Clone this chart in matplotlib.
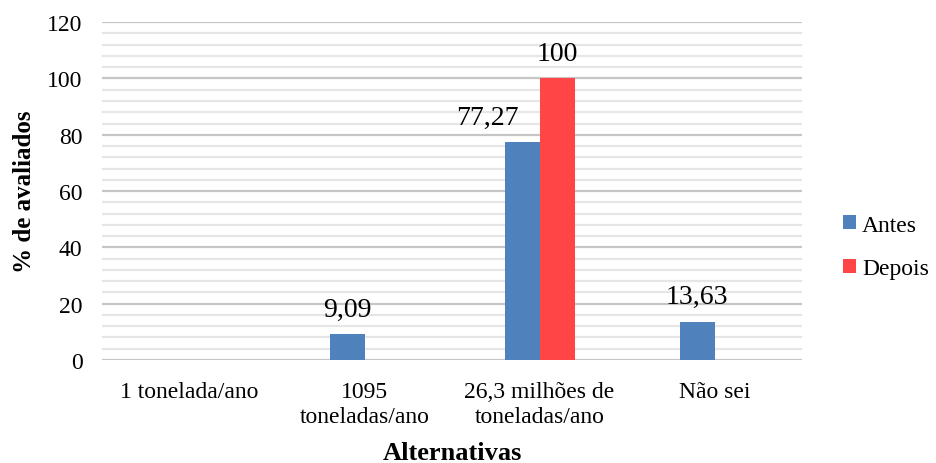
import matplotlib
matplotlib.use("Agg")
import matplotlib.pyplot as plt
from matplotlib.ticker import MultipleLocator
import numpy as np

categories = ["1 tonelada/ano", "1095\ntoneladas/ano", "26,3 milhões de\ntoneladas/ano", "Não sei"]
antes = [0, 9.09, 77.27, 13.63]
depois = [0, 0, 100, 0]
series_names = ["Antes", "Depois"]
y_ticks = [0, 20, 40, 60, 80, 100, 120]

plt.rcParams["font.family"] = ["Liberation Serif", "DejaVu Serif"]

fig = plt.figure(figsize=(9.36, 4.64), dpi=100)
ax = fig.add_axes([0.109, 0.222, 0.748, 0.728])

x = np.arange(len(categories))
w = 0.2
blue = "#4F81BD"
red = "#FF4545"
b1 = ax.bar(x - w / 2, antes, w, color=blue, label=series_names[0], zorder=3)
b2 = ax.bar(x + w / 2, depois, w, color=red, label=series_names[1], zorder=3)

ax.set_xlim(-0.5, len(categories) - 0.5)
ax.set_ylim(0, 120)
ax.set_yticks(y_ticks)
ax.yaxis.set_minor_locator(MultipleLocator(4))
ax.grid(axis="y", which="major", color="#c6c6c6", linewidth=1.6, zorder=0)
ax.grid(axis="y", which="minor", color="#e6e6e6", linewidth=1.6, zorder=0)
ax.set_axisbelow(True)
for s in ax.spines.values():
    s.set_visible(False)
ax.tick_params(axis="both", which="both", length=0, labelsize=17)
ax.tick_params(axis="y", pad=14)
ax.tick_params(axis="x", pad=15)
ax.set_xticks(x)
ax.set_xticklabels(categories, linespacing=1.25)

ax.set_ylabel("% de avaliados", fontsize=18, fontweight="bold", labelpad=8)
ax.set_xlabel("Alternativas", fontsize=19, fontweight="bold", labelpad=10)

def fmt(v):
    s = f"{v:g}"
    return s.replace(".", ",")

for bars, vals in ((b1, antes), (b2, depois)):
    for rect, v in zip(bars, vals):
        if v == 0:
            continue
        dx = -25 if v == 77.27 else 0
        ax.annotate(fmt(v), (rect.get_x() + rect.get_width() / 2, v),
                    xytext=(dx, 9), textcoords="offset points",
                    ha="center", va="bottom", fontsize=20)

fig.legend(handles=[b1, b2], labels=series_names, loc="center left",
           bbox_to_anchor=(0.901, 0.466), frameon=False, fontsize=17,
           handlelength=0.55, handleheight=0.55, handletextpad=0.25,
           labelspacing=0.95, borderaxespad=0, borderpad=0)

fig.savefig("out.png", dpi=100)
